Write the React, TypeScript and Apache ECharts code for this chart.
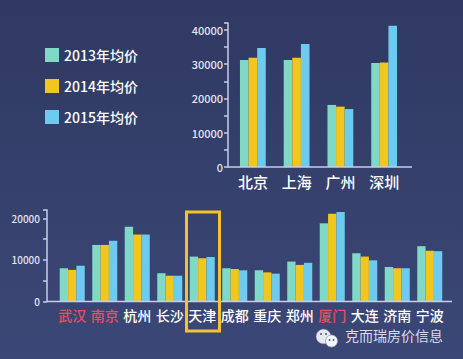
import React, { useEffect, useRef } from "react";
import * as echarts from "echarts";

const seriesNames = ["2013年均价", "2014年均价", "2015年均价"];
const colors = ["#7fd9c6", "#f1c71f", "#6ccbef"];

const topCities = ["北京", "上海", "广州", "深圳"];
const top2013 = [31200, 31200, 18100, 30300];
const top2014 = [31900, 31900, 17600, 30500];
const top2015 = [34700, 35900, 16900, 41200];

const bottomCities = ["武汉", "南京", "杭州", "长沙", "天津", "成都", "重庆", "郑州", "厦门", "大连", "济南", "宁波"];
const highlightCities = ["武汉", "南京", "厦门"];
const bottom2013 = [8000, 13600, 18000, 6800, 10800, 8000, 7500, 9600, 18800, 11600, 8300, 13300];
const bottom2014 = [7600, 13600, 16100, 6200, 10400, 7800, 7000, 8800, 21100, 10800, 8000, 12200];
const bottom2015 = [8600, 14600, 16100, 6200, 10700, 7500, 6700, 9300, 21500, 9900, 8000, 12100];

const FONT = '"Noto Sans CJK SC", "Noto Sans", sans-serif';
const AXIS_COLOR = "#c9cdea";
const LABEL_COLOR = "#e2e5f7";

export default function App() {
  const ref = useRef<HTMLDivElement>(null);
  useEffect(() => {
    if (!ref.current) return;
    const chart = echarts.init(ref.current, undefined, { renderer: "svg" });
    const yLabelFmt = (v: number) => (v % 10000 === 0 ? String(v) : "");
    const mkSeries = (idx: number, data: number[], axisIdx: number) => ({
      name: seriesNames[idx],
      type: "bar",
      xAxisIndex: axisIdx,
      yAxisIndex: axisIdx,
      data,
      barGap: "0%",
      barCategoryGap: axisIdx === 0 ? "41%" : "23%",
      itemStyle: { color: colors[idx] },
    });
    chart.setOption({
      animation: false,
      backgroundColor: {
        type: "linear", x: 0, y: 0, x2: 0, y2: 1,
        colorStops: [
          { offset: 0, color: "#2f3962" },
          { offset: 1, color: "#3b4776" },
        ],
      },
      textStyle: { fontFamily: FONT },
      legend: {
        orient: "vertical",
        left: 40,
        top: 43,
        itemWidth: 14,
        itemHeight: 14,
        itemGap: 17,
        icon: "rect",
        data: seriesNames,
        textStyle: { color: "#ffffff", fontSize: 14, fontFamily: FONT, fontWeight: 500 },
      },
      grid: [
        { left: 231, right: 57, top: 23, bottom: 192 },
        { left: 56, right: 17, top: 210, bottom: 57.5 },
      ],
      xAxis: [
        {
          type: "category",
          gridIndex: 0,
          data: topCities,
          axisLine: { show: false },
          axisTick: { show: false },
          axisLabel: { color: "#ffffff", fontSize: 15, margin: 7, fontFamily: FONT, fontWeight: 500, interval: 0 },
        },
        {
          type: "category",
          gridIndex: 1,
          data: bottomCities,
          axisLine: { show: false },
          axisTick: { show: false },
          axisLabel: {
            fontSize: 14,
            margin: 6,
            fontFamily: FONT,
            fontWeight: 500,
            interval: 0,
            color: (v: string) => (highlightCities.indexOf(v) >= 0 ? "#e4505e" : "#ffffff"),
          },
        },
      ],
      yAxis: [
        {
          type: "value",
          gridIndex: 0,
          min: 0,
          max: 42000,
          interval: 5000,
          offset: 3,
          splitLine: { show: false },
          axisLine: { show: true, lineStyle: { color: AXIS_COLOR, width: 1.5 } },
          axisTick: { show: true, length: 4, lineStyle: { color: AXIS_COLOR, width: 1.5 } },
          axisLabel: { color: LABEL_COLOR, fontSize: 11, margin: 5, formatter: yLabelFmt, fontFamily: FONT, fontWeight: 500 },
        },
        {
          type: "value",
          gridIndex: 1,
          min: 0,
          max: 22000,
          interval: 5000,
          offset: 9,
          splitLine: { show: false },
          axisLine: { show: true, lineStyle: { color: AXIS_COLOR, width: 1.5 } },
          axisTick: { show: true, length: 4, lineStyle: { color: AXIS_COLOR, width: 1.5 } },
          axisLabel: { color: LABEL_COLOR, fontSize: 10, margin: 7, formatter: yLabelFmt, fontFamily: FONT, fontWeight: 500 },
        },
      ],
      series: [
        mkSeries(0, top2013, 0),
        mkSeries(1, top2014, 0),
        mkSeries(2, top2015, 0),
        mkSeries(0, bottom2013, 1),
        mkSeries(1, bottom2014, 1),
        mkSeries(2, bottom2015, 1),
      ],
      graphic: [
        { type: "line", shape: { x1: 228, y1: 167, x2: 412, y2: 167 }, style: { stroke: AXIS_COLOR, lineWidth: 1.5 }, z: 10 },
        { type: "line", shape: { x1: 47, y1: 301.5, x2: 452, y2: 301.5 }, style: { stroke: AXIS_COLOR, lineWidth: 1.5 }, z: 10 },
        { type: "rect", shape: { x: 186.5, y: 212, width: 33, height: 119 }, style: { fill: "none", stroke: "#f2c230", lineWidth: 3 }, z: 20 },
        {
          type: "group",
          z: 20,
          children: [
            { type: "circle", shape: { cx: 323.5, cy: 336.5, r: 7.3 }, style: { fill: "#e6e8f0", stroke: "#9aa0b8", lineWidth: 0.5 } },
            { type: "circle", shape: { cx: 331.5, cy: 341, r: 6 }, style: { fill: "#f4f5fa", stroke: "#9aa0b8", lineWidth: 0.8 } },
            { type: "circle", shape: { cx: 321, cy: 334, r: 0.9 }, style: { fill: "#3a4470" } },
            { type: "circle", shape: { cx: 326, cy: 334, r: 0.9 }, style: { fill: "#3a4470" } },
            { type: "circle", shape: { cx: 329.5, cy: 340, r: 0.8 }, style: { fill: "#3a4470" } },
            { type: "circle", shape: { cx: 333.5, cy: 340, r: 0.8 }, style: { fill: "#3a4470" } },
            {
              type: "text",
              x: 345,
              y: 335,
              style: { text: "克而瑞房价信息", fill: "#d9dbea", fontSize: 14, fontFamily: FONT, verticalAlign: "middle", textAlign: "left" },
            },
          ],
        },
      ],
    });
    return () => chart.dispose();
  }, []);
  return <div ref={ref} style={{ position: "fixed", left: 0, top: 0, width: 463, height: 359 }} />;
}
